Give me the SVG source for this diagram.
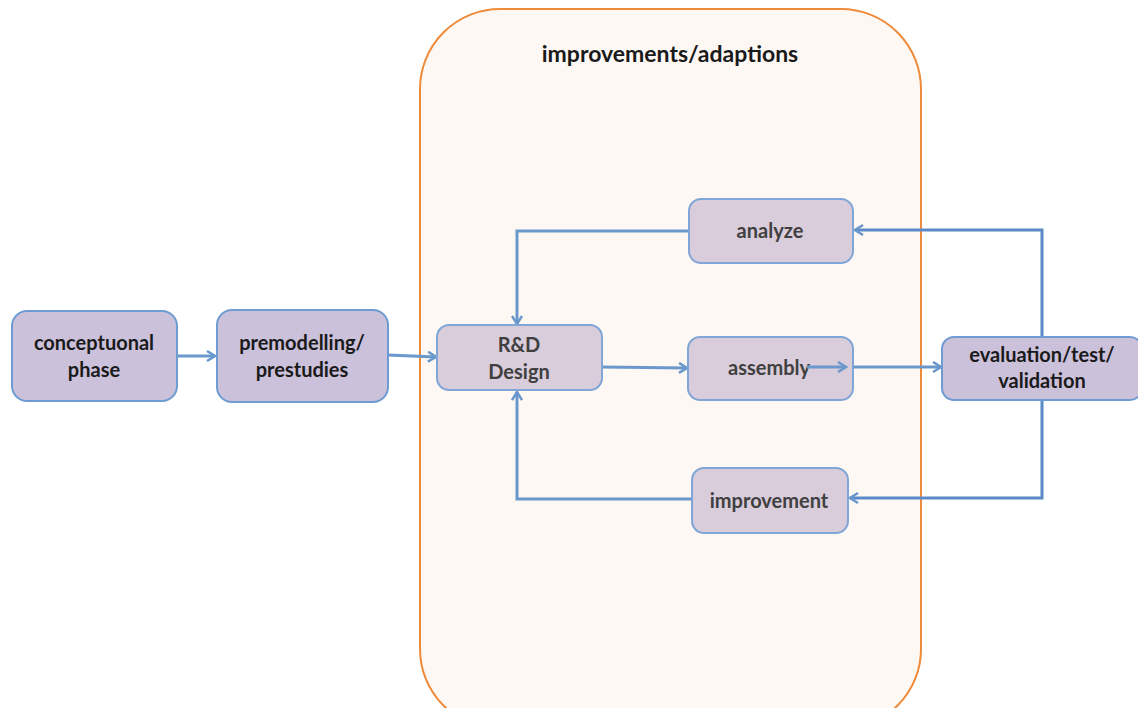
<svg xmlns="http://www.w3.org/2000/svg" width="1138" height="708" viewBox="0 0 1138 708">
<style>
.outer{fill:#CCC1DB;stroke:#6E9BD1;stroke-width:2}
.inner{fill:#D9CCDB;stroke:#7FA6D6;stroke-width:2}
.t{font-family:Lato,"Open Sans",sans-serif;font-weight:bold;font-size:20px;fill:#1a1a1a;text-anchor:middle}
.ti{font-family:Lato,"Open Sans",sans-serif;font-weight:bold;font-size:20px;fill:#404040;text-anchor:middle}
.c{fill:none;stroke:#6A98CC;stroke-width:3}
.d{fill:none;stroke:#5A8AC8;stroke-width:3}
</style>
<defs>
<marker id="a" viewBox="0 0 12 12" refX="10" refY="6" markerWidth="12" markerHeight="12" markerUnits="userSpaceOnUse" orient="auto">
<polyline points="2,1 10,6 2,11" fill="none" stroke="#6A98CC" stroke-width="2.5"/>
</marker>
</defs>
<rect width="1138" height="708" fill="#ffffff"/>
<g id="container">
<rect x="420" y="9" width="501" height="720" rx="80" fill="#FEF8F4" stroke="#EE8B3A" stroke-width="2"/>
<text x="670" y="62" font-family="Lato,'Open Sans',sans-serif" font-weight="bold" font-size="23" fill="#1a1a1a" text-anchor="middle">improvements/adaptions</text>
</g>
<g id="connectors">
<line class="c" x1="177" y1="356" x2="215" y2="356" marker-end="url(#a)"/>
<polyline class="c" points="388,355 436,357" marker-end="url(#a)"/>
<polyline class="c" points="689,231 517,231 517,324" marker-end="url(#a)"/>
<line class="c" x1="602" y1="367" x2="687" y2="368" marker-end="url(#a)"/>
<line class="c" x1="853" y1="367" x2="941" y2="367" marker-end="url(#a)"/>
<polyline class="d" points="1042,337 1042,230 855,230" marker-end="url(#a)"/>
<polyline class="d" points="1042,400 1042,498 850,498" marker-end="url(#a)"/>
<polyline class="c" points="692,499 517,499 517,392" marker-end="url(#a)"/>
</g>
<g id="conceptuonal">
<rect class="outer" x="12" y="311" width="165" height="90" rx="15"/>
<text class="t" x="94" y="350">conceptuonal</text>
<text class="t" x="94" y="377">phase</text>
</g>
<g id="premodelling">
<rect class="outer" x="217" y="310" width="171" height="92" rx="15"/>
<text class="t" x="302" y="350">premodelling/</text>
<text class="t" x="302" y="377">prestudies</text>
</g>
<g id="rd">
<rect class="inner" x="437" y="325" width="165" height="65" rx="12"/>
<text class="ti" x="519" y="352">R&amp;D</text>
<text class="ti" x="519" y="379">Design</text>
</g>
<g id="analyze">
<rect class="inner" x="689" y="199" width="164" height="64" rx="12"/>
<text class="ti" x="770" y="238">analyze</text>
</g>
<g id="assembly">
<rect class="inner" x="688" y="337" width="165" height="63" rx="12"/>
<text class="ti" x="769" y="375">assembly</text>
</g>
<line class="c" x1="807" y1="367" x2="846" y2="367" marker-end="url(#a)"/>
<g id="improvement">
<rect class="inner" x="692" y="468" width="156" height="65" rx="12"/>
<text class="ti" x="769" y="508">improvement</text>
</g>
<g id="evaluation">
<rect class="outer" x="942" y="337" width="200" height="63" rx="12"/>
<text class="t" x="1042" y="362">evaluation/test/</text>
<text class="t" x="1042" y="388">validation</text>
</g>
</svg>
